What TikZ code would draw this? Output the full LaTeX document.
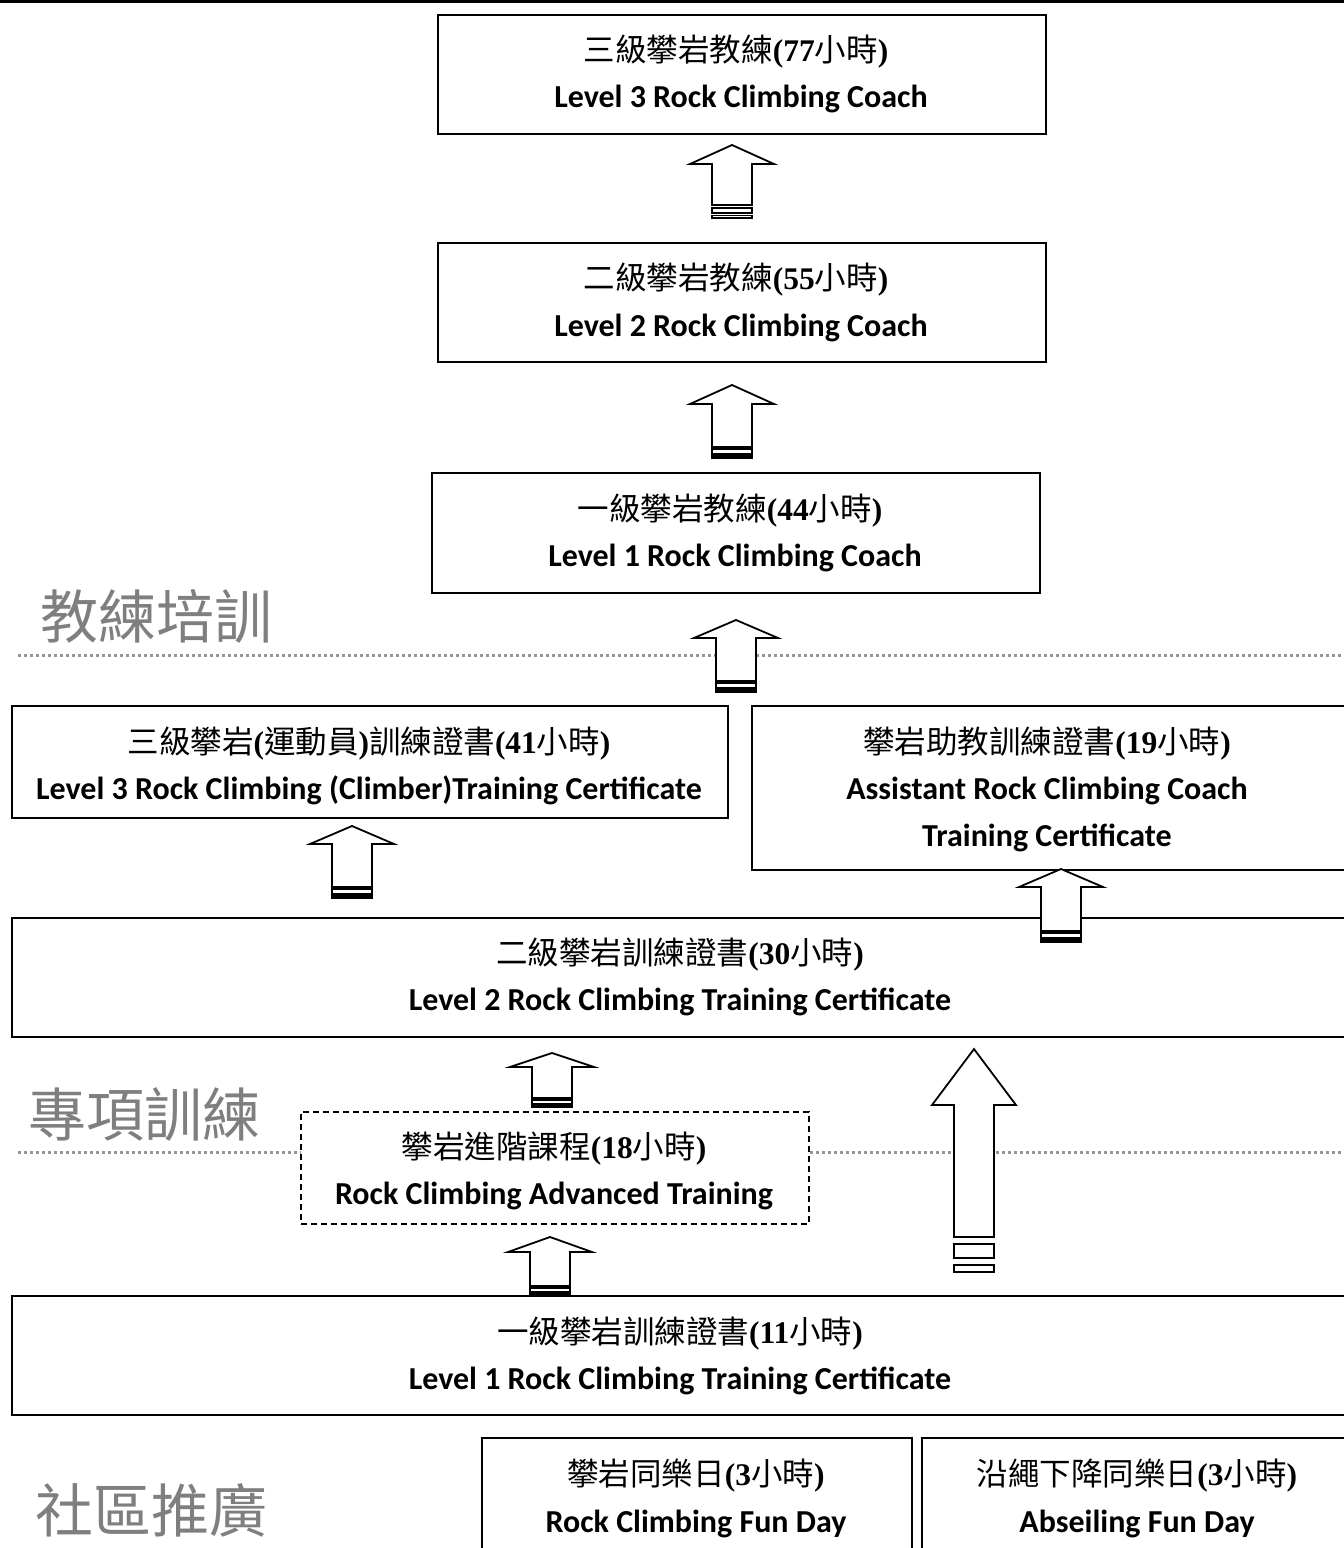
\documentclass[tikz,border=0pt]{standalone}
\usepackage{fontspec}
\setmainfont{Liberation Serif}
\newfontfamily\cjk{Noto Sans CJK TC}
\newfontfamily\enf{Carlito}
\definecolor{labgray}{RGB}{127,127,127}
\definecolor{dotgray}{RGB}{150,150,150}
\tikzset{
  box/.style={draw=black, line width=1.8pt, fill=white, inner sep=0pt, anchor=north west},
  dbox/.style={box, dash pattern=on 6pt off 4pt, line width=1.5pt},
  cnt/.style={anchor=base, inner sep=0pt, font=\fontsize{31.5}{31.5}\selectfont},
  ent/.style={anchor=base, inner sep=0pt, font=\enf\bfseries\fontsize{32}{32}\selectfont},
  sect/.style={anchor=base west, inner sep=0pt, text=labgray, font=\cjk\fontsize{58}{58}\selectfont},
  dotl/.style={draw=dotgray, line width=3pt, dash pattern=on 3pt off 3pt},
  blk/.style={draw=black, fill=white, line width=1.8pt, line join=miter},
}
\newcommand\zh[1]{{\cjk #1}}
\newcommand\nb[1]{{\bfseries #1}}
\newcommand\blkarrow[5]{% cx, tip, headbase, shaftbottom, end
  \pgfmathsetmacro\arA{#4+0.2*(#5-#4)}%
  \pgfmathsetmacro\arB{#4+0.6*(#5-#4)}%
  \pgfmathsetmacro\arC{#4+0.8*(#5-#4)}%
  \draw[blk] (#1,#2) -- (#1+42,#3) -- (#1+20,#3) -- (#1+20,#4) -- (#1-20,#4) -- (#1-20,#3) -- (#1-42,#3) -- cycle;
  \draw[blk] (#1-20,\arA) rectangle (#1+20,\arB);
  \draw[blk] (#1-20,\arC) rectangle (#1+20,#5);
}
\begin{document}
\begin{tikzpicture}[x=1pt,y=-1pt]
\useasboundingbox (0,0) rectangle (1344,1548);
\clip (0,0) rectangle (1344,1548);
% top rule
\draw[line width=3pt] (0,1.5) -- (1344,1.5);
% dotted separators
\draw[dotl] (18,655) -- (1344,655);
\draw[dotl] (18,1152) -- (1344,1152);
% section labels
\node[sect] (s1) at (40,638) {教練培訓};
\node[sect] (s2) at (28,1136) {專項訓練};
\node[sect] (s3) at (35,1532) {社區推廣};
% boxes
\node[box, minimum width=608pt, minimum height=119pt] (b1) at (437,14) {};
\node[box, minimum width=608pt, minimum height=119pt] (b2) at (437,242) {};
\node[box, minimum width=608pt, minimum height=120pt] (b3) at (431,472) {};
\node[box, minimum width=716pt, minimum height=112pt] (b4) at (11,705) {};
\node[box, minimum width=600pt, minimum height=164pt] (b5) at (751,705) {};
\node[box, minimum width=1340pt, minimum height=119pt] (b6) at (11,917) {};
\node[dbox, minimum width=508pt, minimum height=112pt] (b7) at (300,1111) {};
\node[box, minimum width=1340pt, minimum height=119pt] (b8) at (11,1295) {};
\node[box, minimum width=430pt, minimum height=130pt] (b9) at (481,1437) {};
\node[box, minimum width=430pt, minimum height=130pt] (b10) at (921,1437) {};
% texts
\node[cnt] (t1a) at (736,61) {\zh{三級攀岩教練}\nb{(77}\zh{小時}\nb{)}};
\node[ent] (t1b) at (741,107) {Level 3 Rock Climbing Coach};
\node[cnt] (t2a) at (736,289) {\zh{二級攀岩教練}\nb{(55}\zh{小時}\nb{)}};
\node[ent] (t2b) at (741,336) {Level 2 Rock Climbing Coach};
\node[cnt] (t3a) at (730,520) {\zh{一級攀岩教練}\nb{(44}\zh{小時}\nb{)}};
\node[ent] (t3b) at (735,566) {Level 1 Rock Climbing Coach};
\node[cnt] (t4a) at (369,753) {\zh{三級攀岩}\nb{(}\zh{運動員}\nb{)}\zh{訓練證書}\nb{(41}\zh{小時}\nb{)}};
\node[ent] (t4b) at (369,799) {Level 3 Rock Climbing (Climber)Training Certificate};
\node[cnt] (t5a) at (1047,753) {\zh{攀岩助教訓練證書}\nb{(19}\zh{小時}\nb{)}};
\node[ent] (t5b) at (1047,799) {Assistant Rock Climbing Coach};
\node[ent] (t5c) at (1047,846) {Training Certificate};
\node[cnt] (t6a) at (680,964) {\zh{二級攀岩訓練證書}\nb{(30}\zh{小時}\nb{)}};
\node[ent] (t6b) at (680,1010) {Level 2 Rock Climbing Training Certificate};
\node[cnt] (t7a) at (554,1158) {\zh{攀岩進階課程}\nb{(18}\zh{小時}\nb{)}};
\node[ent] (t7b) at (554,1204) {Rock Climbing Advanced Training};
\node[cnt] (t8a) at (680,1343) {\zh{一級攀岩訓練證書}\nb{(11}\zh{小時}\nb{)}};
\node[ent] (t8b) at (680,1389) {Level 1 Rock Climbing Training Certificate};
\node[cnt] (t9a) at (696,1485) {\zh{攀岩同樂日}\nb{(3}\zh{小時}\nb{)}};
\node[ent] (t9b) at (696,1532) {Rock Climbing Fun Day};
\node[cnt] (t10a) at (1137,1485) {\zh{沿繩下降同樂日}\nb{(3}\zh{小時}\nb{)}};
\node[ent] (t10b) at (1137,1532) {Abseiling Fun Day};
% block arrows
\blkarrow{732}{145}{164}{205}{218}
\blkarrow{732}{385}{404}{447}{458}
\blkarrow{736}{620}{638}{681}{692}
\blkarrow{352}{826}{844}{887}{898}
\blkarrow{1061}{869}{887}{931}{942}
\blkarrow{552}{1053}{1067}{1098}{1107}
\blkarrow{550}{1237}{1252}{1286}{1295}
\blkarrow{974}{1049}{1105}{1237}{1272}
\end{tikzpicture}
\end{document}
